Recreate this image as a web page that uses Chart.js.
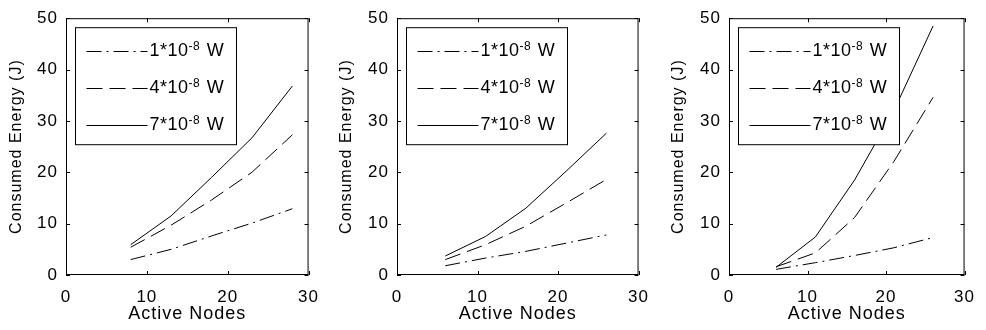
<!DOCTYPE html>
<html>
<head>
<meta charset="utf-8">
<script src="https://cdn.jsdelivr.net/npm/chart.js@4.4.1/dist/chart.umd.min.js"></script>
<style>
  html, body { margin: 0; padding: 0; background: #fff; }
  #wrap { position: relative; width: 986px; height: 330px; overflow: hidden; }
  .panel { position: absolute; top: 0; width: 330px; height: 330px; }
</style>
</head>
<body>
<div id="wrap">
  <div class="panel" style="left:0px"><canvas id="c1" width="330" height="330"></canvas></div>
  <div class="panel" style="left:330px"><canvas id="c2" width="330" height="330"></canvas></div>
  <div class="panel" style="left:656px"><canvas id="c3" width="330" height="330"></canvas></div>
</div>
<script>
// active nodes (x) for each panel
const nodesA = [8, 13, 18, 23, 28];
const nodesB = [6, 11, 16, 21, 26];

// consumed energy (J)
const p1Low  = [3.0, 5.0, 7.6, 10.1, 12.9];
const p1Mid  = [5.4, 9.7, 14.6, 20.0, 27.3];
const p1High = [5.9, 11.5, 19.0, 26.7, 36.8];

const p2Low  = [1.8, 3.3, 4.6, 6.2, 7.8];
const p2Mid  = [3.0, 5.9, 9.5, 14.0, 18.6];
const p2High = [3.7, 7.5, 13.0, 20.2, 27.6];

const p3Low  = [1.1, 2.4, 3.8, 5.3, 7.3];
const p3Mid  = [1.6, 4.3, 11.2, 22.1, 34.6];
const p3High = [1.5, 7.4, 18.5, 32.0, 48.5];

// legend labels: 1*10^-8 W etc.
const powers = ['1*10', '4*10', '7*10'];
const exponent = '-8';
const unit = 'W';

const xTitle = 'Active Nodes';
const yTitle = 'Consumed Energy (J)';

const dashes = [[15, 5, 2, 5], [16, 7], []];
const fontFamily = "'Liberation Sans', Arial, sans-serif";

Chart.defaults.font.family = fontFamily;
Chart.defaults.color = '#000';

// box, inward ticks and legend, the way the original figure has them
const frame = {
  id: 'frame',
  beforeDraw(chart) {
    chart.ctx.letterSpacing = '1px';
  },
  afterDraw(chart) {
    const ctx = chart.ctx;
    const a = chart.chartArea;
    const xs = chart.scales.x;
    const ys = chart.scales.y;
    ctx.save();
    ctx.letterSpacing = '0px';
    ctx.strokeStyle = '#000';
    ctx.lineWidth = 1;
    ctx.setLineDash([]);
    ctx.beginPath();
    xs.ticks.forEach(t => {
      const px = Math.round(xs.getPixelForValue(t.value)) + 0.5;
      ctx.moveTo(px, a.bottom); ctx.lineTo(px, a.bottom - 4);
      ctx.moveTo(px, a.top); ctx.lineTo(px, a.top + 4);
    });
    ys.ticks.forEach(t => {
      const py = Math.round(ys.getPixelForValue(t.value)) + 0.5;
      ctx.moveTo(a.left, py); ctx.lineTo(a.left + 4, py);
      ctx.moveTo(a.right, py); ctx.lineTo(a.right - 4, py);
    });
    ctx.stroke();
    ctx.strokeRect(a.left + 0.5, a.top + 0.5, a.right - a.left - 1, a.bottom - a.top - 1);

    // legend
    const bx = a.left + 9.5, by = a.top + 9.5, bw = 161, bh = 117;
    ctx.fillStyle = '#fff';
    ctx.fillRect(bx, by, bw, bh);
    ctx.strokeRect(bx, by, bw, bh);
    chart.data.datasets.forEach((ds, i) => {
      const y = Math.round(by + 23 + i * 37) + 0.5;
      ctx.setLineDash(ds.borderDash || []);
      ctx.beginPath();
      ctx.moveTo(bx + 11, y);
      ctx.lineTo(bx + 72, y);
      ctx.stroke();
      ctx.setLineDash([]);
      ctx.fillStyle = '#000';
      ctx.textBaseline = 'middle';
      ctx.textAlign = 'left';
      ctx.letterSpacing = '0.5px';
      let tx = bx + 74;
      ctx.font = '18px ' + fontFamily;
      ctx.fillText(powers[i], tx, y);
      tx += ctx.measureText(powers[i]).width;
      ctx.font = '12px ' + fontFamily;
      ctx.fillText(exponent, tx, y - 5);
      tx += ctx.measureText(exponent).width;
      ctx.font = '18px ' + fontFamily;
      ctx.fillText(' ' + unit, tx + 1, y);
    });
    ctx.restore();
  }
};

function makePanel(id, nodes, series, yWidth, padLeft, padRight) {
  const datasets = series.map((vals, i) => ({
    label: powers[i] + '^' + exponent + ' ' + unit,
    data: nodes.map((n, j) => ({ x: n, y: vals[j] })),
    borderColor: '#000',
    borderWidth: 1,
    borderDash: dashes[i],
    pointRadius: 0,
    tension: 0,
    fill: false
  }));
  return new Chart(document.getElementById(id), {
    type: 'line',
    data: { datasets },
    plugins: [frame],
    options: {
      responsive: false,
      animation: false,
      layout: { padding: { left: padLeft, right: padRight, top: 15, bottom: 0 } },
      plugins: { legend: { display: false }, tooltip: { enabled: false } },
      scales: {
        x: {
          type: 'linear',
          min: 0, max: 30,
          ticks: { stepSize: 10, padding: 12, maxRotation: 0, font: { size: 17 } },
          grid: { drawOnChartArea: false, drawTicks: false },
          border: { display: false },
          title: { display: true, text: xTitle, font: { size: 18 }, padding: { top: 0, bottom: 5 } },
          afterFit: s => { s.height = 55; }
        },
        y: {
          min: 0, max: 50,
          ticks: { stepSize: 10, padding: 8, font: { size: 17 } },
          grid: { drawOnChartArea: false, drawTicks: false },
          border: { display: false },
          title: { display: true, text: yTitle, font: { size: 16 }, padding: { top: 7, bottom: 0 } },
          afterFit: s => { s.width = yWidth; }
        }
      }
    }
  });
}

makePanel('c1', nodesA, [p1Low, p1Mid, p1High], 66, 0, 17);
makePanel('c2', nodesB, [p2Low, p2Mid, p2High], 67, 0, 17);
makePanel('c3', nodesB, [p3Low, p3Mid, p3High], 67, 6, 11);
</script>
</body>
</html>
